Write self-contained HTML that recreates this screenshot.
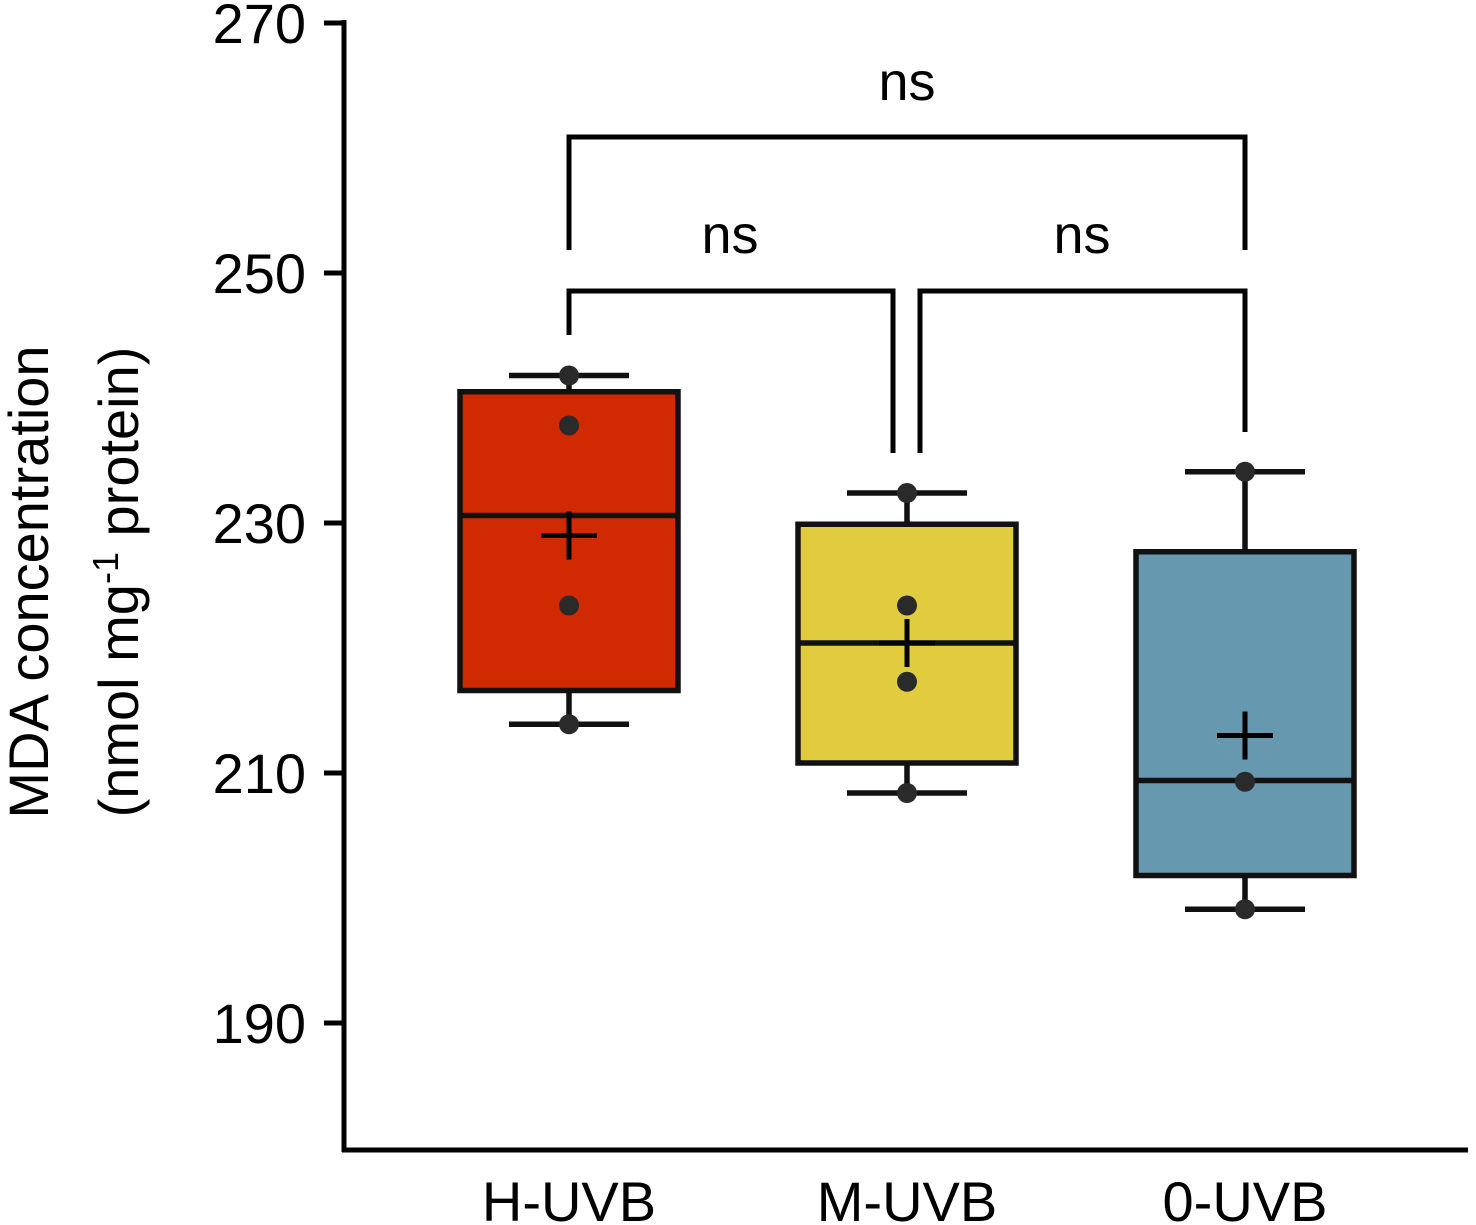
<!DOCTYPE html>
<html><head><meta charset="utf-8"><style>
html,body{margin:0;padding:0;background:#fff;}
svg{display:block;font-family:"Liberation Sans",Arial,sans-serif;}
</style></head><body>
<svg id="chart" width="1476" height="1225" viewBox="0 0 1476 1225">
<g id="axes"></g>
<g id="plot"></g>
<g id="sig"></g>
<text transform="translate(48,582) rotate(-90)" text-anchor="middle" font-size="56">MDA concentration</text>
<text transform="translate(138,582) rotate(-90)" text-anchor="middle" font-size="56">(nmol mg<tspan dy="-20" font-size="36">-1</tspan><tspan dy="20"> protein)</tspan></text>
</svg>
<script>
const categories = ["H-UVB","M-UVB","0-UVB"];
const colors = ["#D12A02","#E1CC40","#6699AF"];
const q1 = [216.6,210.8,201.8];
const q3 = [240.5,229.9,227.7];
const medians = [230.6,220.4,209.4];
const whiskerLow = [213.9,208.4,199.1];
const whiskerHigh = [241.8,232.4,234.1];
const means = [229.0,220.4,213.0];
const points = [[241.8,237.8,223.4,213.9],[232.4,223.4,217.3,208.4],[234.1,209.3,199.1]];
const yTicks = [190,210,230,250,270];
const NS = "http://www.w3.org/2000/svg";
const yMin=179.84, yMax=270, yTop=23, yBottom=1150;
function y(v){return yTop+(yMax-v)*(yBottom-yTop)/(yMax-yMin);}
function x(i){return 569+i*338;}
function mk(tag,attrs,parent,txt){const e=document.createElementNS(NS,tag);for(const k in attrs)e.setAttribute(k,attrs[k]);if(txt!==undefined)e.textContent=txt;parent.appendChild(e);return e;}
const axes=document.getElementById('axes'),plot=document.getElementById('plot'),sig=document.getElementById('sig');
let e;
e=mk('line',{x1:344,y1:20,x2:344,y2:1152,stroke:'#000','stroke-width':5},axes);


e=mk('line',{x1:342,y1:1150,x2:1468,y2:1150,stroke:'#000','stroke-width':5},axes);


yTicks.forEach(t=>{
  e=mk('line',{x1:324,y1:y(t),x2:344,y2:y(t),stroke:'#000','stroke-width':5},axes);
  
  
  e=mk('text',{x:306,y:y(t)+20,'text-anchor':'end','font-size':56},axes,String(t));
  
  
});
categories.forEach((c,i)=>{
  const cx=x(i),hw=109;
  e=mk('text',{x:cx,y:1221,'text-anchor':'middle','font-size':56},axes,c);
  
  
  const g=mk('g',{},plot);
  
  
  const s={stroke:'#111','stroke-width':5.5};
  mk('line',Object.assign({x1:cx,y1:y(whiskerHigh[i]),x2:cx,y2:y(q3[i])},s),g);
  mk('line',Object.assign({x1:cx,y1:y(whiskerLow[i]),x2:cx,y2:y(q1[i])},s),g);
  mk('line',Object.assign({x1:cx-60,y1:y(whiskerHigh[i]),x2:cx+60,y2:y(whiskerHigh[i])},s),g);
  mk('line',Object.assign({x1:cx-60,y1:y(whiskerLow[i]),x2:cx+60,y2:y(whiskerLow[i])},s),g);
  mk('rect',Object.assign({x:cx-hw,y:y(q3[i]),width:2*hw,height:y(q1[i])-y(q3[i]),fill:colors[i]},s),g);
  mk('line',Object.assign({x1:cx-hw,y1:y(medians[i]),x2:cx+hw,y2:y(medians[i])},s),g);
  points[i].forEach(p=>{
    e=mk('circle',{cx:cx,cy:y(p),r:10,fill:'#2a2a2a'},g);
    
    
  });
  const my=y(means[i]);
  e=mk('path',{d:`M${cx-28},${my}H${cx+28}M${cx},${my-24}V${my+24}`,stroke:'#000','stroke-width':5,fill:'none'},g);
  
  
});
function bracket(d,tx,ty,name){
  e=mk('path',{d:d,stroke:'#000','stroke-width':5,fill:'none'},sig);
  
  
  e=mk('text',{x:tx,y:ty,'text-anchor':'middle','font-size':54},sig,'ns');
  
  
}
bracket('M569,250V137H1245V250',907,100,'bracket-h-vs-0');
bracket('M569,335V291H893V453',730,253,'bracket-h-vs-m');
bracket('M920,453V291H1245V432',1082,253,'bracket-m-vs-0');
</script>
</body></html>
